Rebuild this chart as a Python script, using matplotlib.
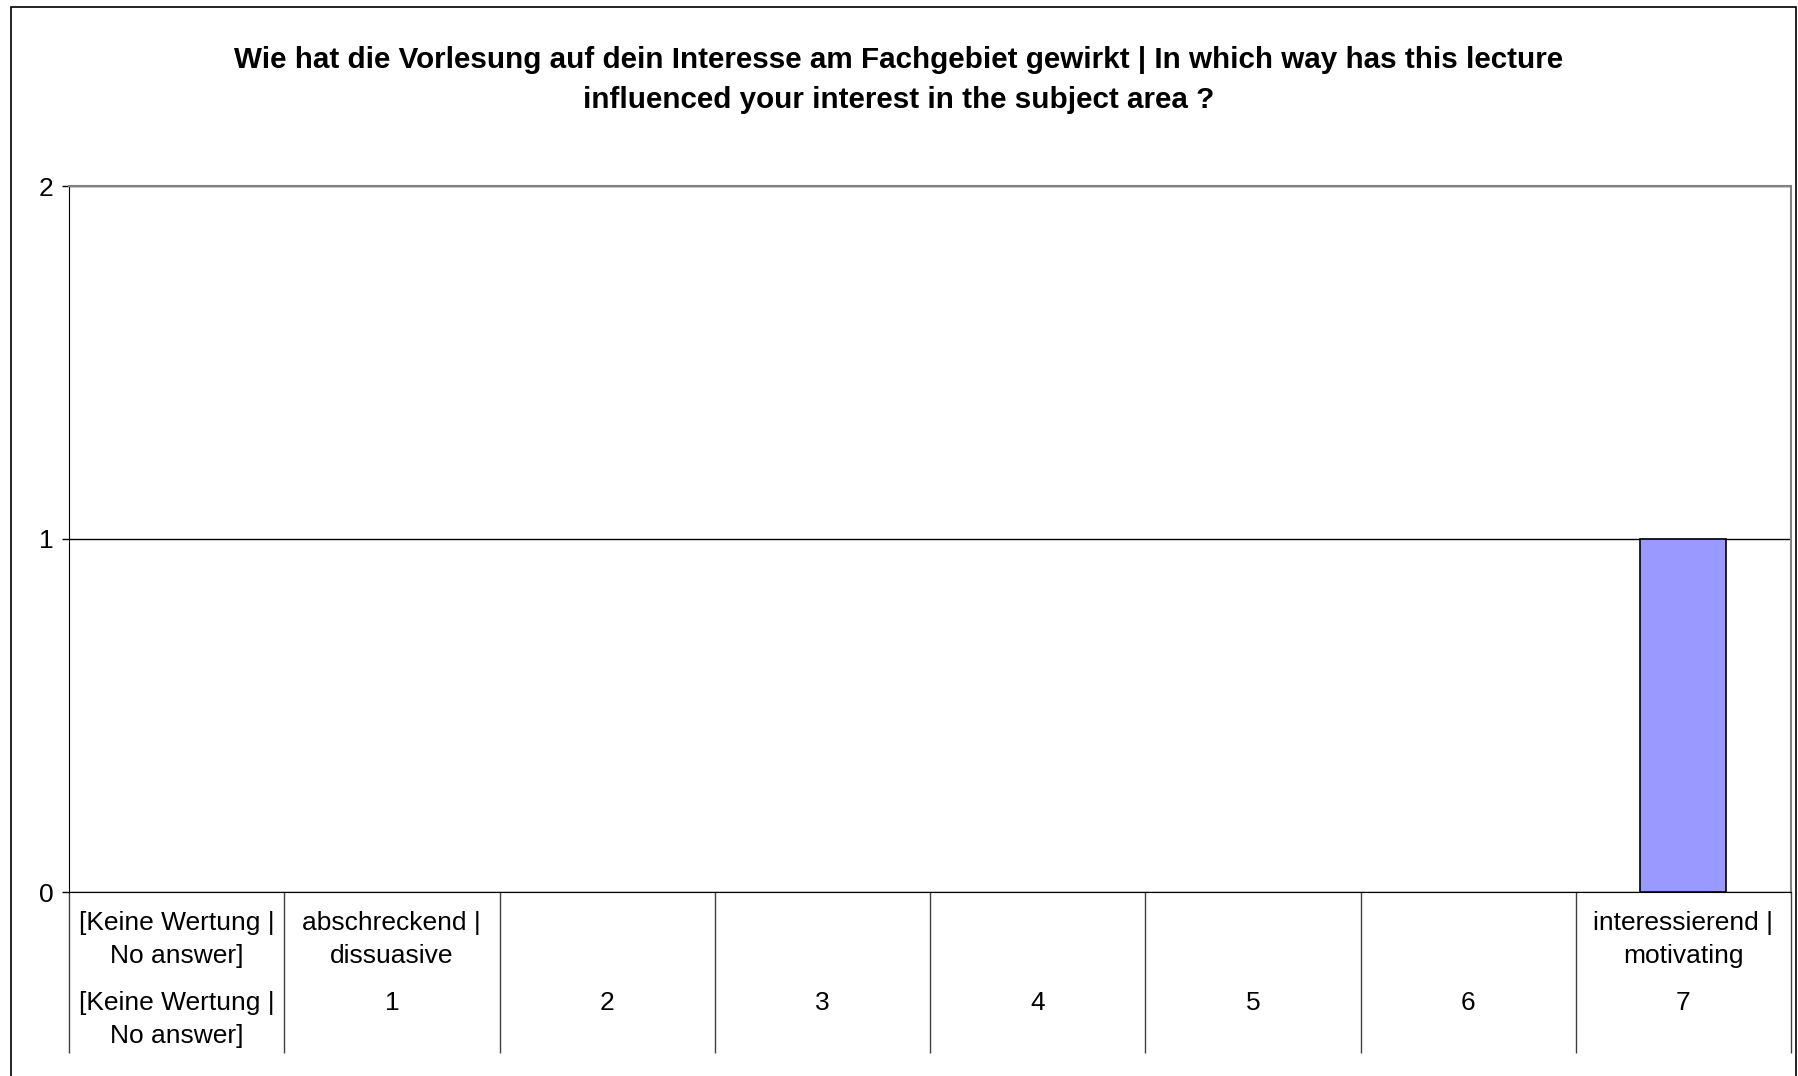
import matplotlib.pyplot as plt
from matplotlib.patches import Rectangle

plt.rcParams['font.family'] = ['Liberation Sans', 'DejaVu Sans']

title = ("Wie hat die Vorlesung auf dein Interesse am Fachgebiet gewirkt | In which way has this lecture\n"
         "influenced your interest in the subject area ?")
labels_top = ["[Keine Wertung |\nNo answer]", "abschreckend |\ndissuasive", "", "", "", "", "",
              "interessierend |\nmotivating"]
labels_bottom = ["[Keine Wertung |\nNo answer]", "1", "2", "3", "4", "5", "6", "7"]
counts = [0, 0, 0, 0, 0, 0, 0, 1]
y_ticks = [0, 1, 2]


def main():
    fig = plt.figure(figsize=(17.98, 10.76), dpi=100)
    ax = fig.add_axes([69 / 1798, 1 - 892 / 1076, (1791 - 69) / 1798, (892 - 186) / 1076])

    x = list(range(len(counts)))
    edges = ['black' if c > 0 else 'none' for c in counts]
    ax.bar(x, counts, width=0.4, color='#9999FF', edgecolor=edges, linewidth=1.2, zorder=3)

    ax.set_xlim(-0.5, len(counts) - 0.5)
    ax.set_ylim(0, 2)
    ax.set_yticks(y_ticks)
    ax.set_yticklabels([str(v) for v in y_ticks], fontsize=19)
    ax.tick_params(axis='y', length=5, width=1, pad=6)

    # category separators as long outward ticks
    ax.set_xticks([i - 0.5 for i in range(len(counts) + 1)])
    ax.set_xticklabels([])
    ax.tick_params(axis='x', length=116, width=1, color='#404040')

    ax.yaxis.grid(True, color='black', linewidth=1)
    ax.set_axisbelow(True)
    ax.spines['top'].set_color('#808080')
    ax.spines['right'].set_color('#808080')
    ax.spines['top'].set_linewidth(1.5)
    ax.spines['right'].set_linewidth(1.5)

    for i in x:
        ax.annotate(labels_top[i], xy=(i, 0), xycoords=ax.get_xaxis_transform(),
                    xytext=(0, -13.5), textcoords='offset points', ha='center', va='top',
                    fontsize=19, linespacing=1.5)
        ax.annotate(labels_bottom[i], xy=(i, 0), xycoords=ax.get_xaxis_transform(),
                    xytext=(0, -71), textcoords='offset points', ha='center', va='top',
                    fontsize=19, linespacing=1.5)

    fig.text(0.5, 1 - 80 / 1076, title, ha='center', va='center', fontsize=21.3,
             fontweight='bold', linespacing=1.58)

    fig.patches.append(Rectangle((11 / 1798, -0.01), (1796 - 11) / 1798, 1.01 - 7 / 1076,
                                 transform=fig.transFigure, fill=False, edgecolor='black',
                                 linewidth=1.2))

    fig.savefig('out.png', dpi=100)


if __name__ == '__main__':
    main()
